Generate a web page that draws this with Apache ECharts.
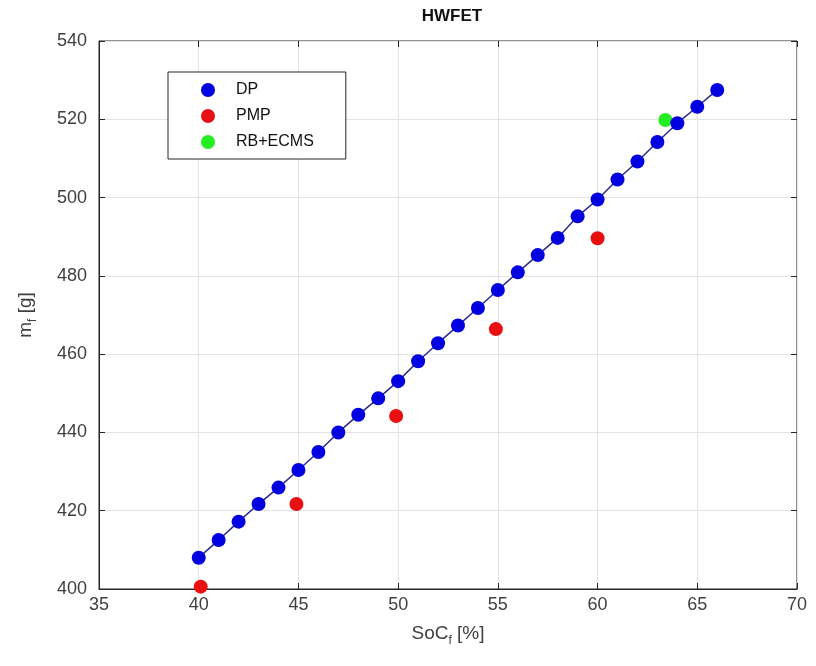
<!DOCTYPE html>
<html>
<head>
<meta charset="utf-8">
<script src="https://cdn.jsdelivr.net/npm/echarts@6/dist/echarts.min.js"></script>
<style>html,body{margin:0;padding:0;background:#fff}#c{width:816px;height:666px}</style>
</head>
<body>
<div id="c"></div>
<script>
const dpSoc = [40,41,42,43,44,45,46,47,48,49,50,51,52,53,54,55,56,57,58,59,60,61,62,63,64,65,66];
const dpMf  = [408.0,412.5,417.2,421.7,425.9,430.4,435.0,440.0,444.5,448.7,453.1,458.2,462.8,467.3,471.8,476.4,480.9,485.3,489.7,495.2,499.5,504.6,509.2,514.2,519.0,523.2,527.5];
const pmpSoc = [40.1,44.9,49.9,54.9,60.0];
const pmpMf  = [400.6,421.7,444.2,466.4,489.6];
const rbSoc = [63.4];
const rbMf  = [519.8];
const xTicks = {min:35,max:70,step:5};
const yTicks = {min:400,max:540,step:20};

const pair = (a,b)=>a.map((v,i)=>[v,b[i]]);
const chart = echarts.init(document.getElementById('c'));
const font = '"Liberation Sans", Arial, Helvetica, sans-serif';
const lblColor = '#404040';
const tickCommon = {show:true,inside:true,length:6,lineStyle:{color:'#262626'}};
const splitCommon = {show:true,lineStyle:{color:'#e3e3e3',width:1}};
const subRich = {s:{fontSize:12,verticalAlign:'bottom',padding:[14,0,0,0],color:lblColor,fontFamily:font}};
chart.setOption({
  animation:false,
  backgroundColor:'#fff',
  title:{text:'HWFET',left:447,top:3,textAlign:'center',textStyle:{fontSize:17,fontWeight:'bold',color:'#111',fontFamily:font}},
  grid:{left:99,right:19,top:41,bottom:77,show:true,borderColor:'#262626',borderWidth:1},
  legend:{
    orient:'vertical',left:168,top:72,
    backgroundColor:'#fff',borderColor:'#262626',borderWidth:1,
    padding:[10,32,9,33],itemGap:10,itemWidth:14,itemHeight:14,
    textStyle:{fontSize:16,color:'#111',fontFamily:font,padding:[0,0,0,16]},
    data:[{name:'DP',icon:'circle'},{name:'PMP',icon:'circle'},{name:'RB+ECMS',icon:'circle'}]
  },
  xAxis:[{type:'value',min:xTicks.min,max:xTicks.max,interval:xTicks.step,
    name:'SoC{s|f} [%]',nameLocation:'middle',nameGap:32,
    nameTextStyle:{fontSize:19,color:lblColor,fontFamily:font,rich:subRich},
    axisLine:{show:true,onZero:false,lineStyle:{color:'#262626',width:1}},
    axisTick:tickCommon,splitLine:splitCommon,
    axisLabel:{color:lblColor,fontSize:18,fontFamily:font,margin:7}},
    {type:'value',position:'top',min:xTicks.min,max:xTicks.max,interval:xTicks.step,
     axisLine:{show:false},axisTick:tickCommon,axisLabel:{show:false},splitLine:{show:false}}],
  yAxis:[{type:'value',min:yTicks.min,max:yTicks.max,interval:yTicks.step,
    name:'m{s|f} [g]',nameLocation:'middle',nameGap:60,nameRotate:90,
    nameTextStyle:{fontSize:19,color:lblColor,fontFamily:font,rich:subRich},
    axisLine:{show:true,onZero:false,lineStyle:{color:'#262626',width:1}},
    axisTick:tickCommon,splitLine:splitCommon,
    axisLabel:{color:lblColor,fontSize:18,fontFamily:font,margin:12}},
    {type:'value',position:'right',min:yTicks.min,max:yTicks.max,interval:yTicks.step,
     axisLine:{show:false},axisTick:tickCommon,axisLabel:{show:false},splitLine:{show:false}}],
  series:[
    {name:'DP',type:'line',data:pair(dpSoc,dpMf),symbol:'circle',symbolSize:14,
     lineStyle:{color:'#2a2a8a',width:1.5},itemStyle:{color:'#0000e0',opacity:1},z:3},
    {name:'PMP',type:'scatter',data:pair(pmpSoc,pmpMf),symbol:'circle',symbolSize:14,
     itemStyle:{color:'#e81010',opacity:1},z:4},
    {name:'RB+ECMS',type:'scatter',data:pair(rbSoc,rbMf),symbol:'circle',symbolSize:14,
     itemStyle:{color:'#22ee22',opacity:1},z:2}
  ]
});
</script>
</body>
</html>
